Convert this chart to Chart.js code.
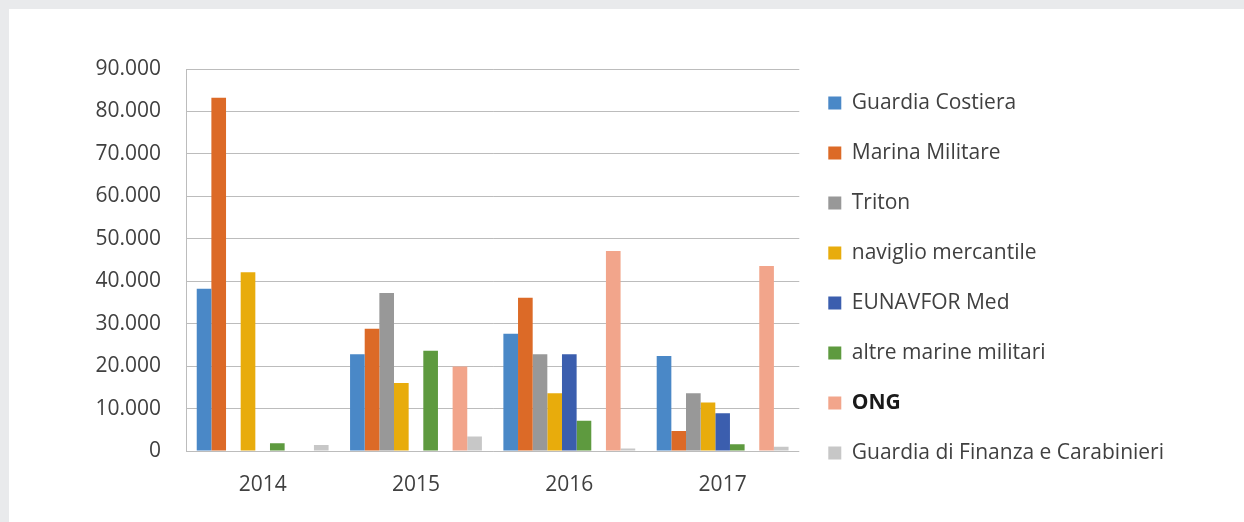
<!DOCTYPE html>
<html>
<head>
<meta charset="utf-8">
<script src="https://cdn.jsdelivr.net/npm/chart.js@4.4.1/dist/chart.umd.min.js"></script>
<style>
  html, body { margin: 0; padding: 0; }
  body { width: 1244px; height: 522px; background: #e9eaec; overflow: hidden; position: relative; }
  #card { position: absolute; left: 9px; top: 9px; width: 1235px; height: 513px; background: #ffffff; }
  canvas { position: absolute; left: 0; top: 0; }
</style>
</head>
<body>
<div id="card"><canvas id="c" width="1235" height="513"></canvas></div>
<script>
const categories = ['2014', '2015', '2016', '2017'];
const seriesNames = ['Guardia Costiera', 'Marina Militare', 'Triton', 'naviglio mercantile', 'EUNAVFOR Med', 'altre marine militari', '', 'ONG', 'Guardia di Finanza e Carabinieri'];
const guardiaCostiera = [38200, 22800, 27600, 22400];
const marinaMilitare = [83200, 28800, 36100, 4700];
const triton = [0, 37200, 22800, 13600];
const naviglioMercantile = [42100, 16000, 13600, 11400];
const eunavforMed = [0, 0, 22800, 8900];
const altreMarineMilitari = [1800, 23600, 7100, 1600];
const emptySlot = [null, null, null, null];
const ong = [0, 19900, 47100, 43600];
const gdfCarabinieri = [1400, 3400, 600, 1000];
const yTicks = [0, 10000, 20000, 30000, 40000, 50000, 60000, 70000, 80000, 90000];
const boldLegendLabels = ['ONG'];

const seriesValues = [guardiaCostiera, marinaMilitare, triton, naviglioMercantile, eunavforMed, altreMarineMilitari, emptySlot, ong, gdfCarabinieri];
const colors = ['#4a88c7', '#dc6a27', '#989898', '#e8ac0c', '#3b5eae', '#5e9a3f', '#ffffff', '#f2a58b', '#c7c7c7'];

const fmt = v => String(v).replace(/\B(?=(\d{3})+(?!\d))/g, '.');
const textColor = '#404040';
const fontFamily = "'Open Sans', sans-serif";
const fontSize = 21;
const legendBox = 13;

// Re-draws selected legend labels in bold, using the legend's own computed hit boxes.
const boldLegendPlugin = {
  id: 'boldLegend',
  afterDraw(chart) {
    const lg = chart.legend;
    if (!lg || !lg.legendItems) return;
    const ctx = chart.ctx;
    lg.legendItems.forEach((item, i) => {
      if (!boldLegendLabels.includes(item.text)) return;
      const hb = lg.legendHitBoxes[i];
      const tx = hb.left + legendBox + fontSize / 2;
      const ty = hb.top + hb.height / 2;
      ctx.save();
      ctx.fillStyle = '#ffffff';
      ctx.fillRect(tx - 1, hb.top - 2, hb.width - legendBox - fontSize / 2 + 6, hb.height + 4);
      ctx.font = 'bold ' + fontSize + 'px ' + fontFamily;
      ctx.fillStyle = '#1a1a1a';
      ctx.textAlign = 'left';
      ctx.textBaseline = 'middle';
      ctx.fillText(item.text, tx, ty);
      ctx.restore();
    });
  }
};

new Chart(document.getElementById('c'), {
  type: 'bar',
  data: {
    labels: categories,
    datasets: seriesValues.map((vals, i) => ({
      label: seriesNames[i],
      data: vals,
      backgroundColor: colors[i],
      borderWidth: 0,
      categoryPercentage: 0.86,
      barPercentage: 1.0,
      xAxisID: 'x'
    }))
  },
  plugins: [boldLegendPlugin],
  options: {
    responsive: false,
    animation: false,
    layout: { padding: { left: 0, top: 25, right: 70, bottom: 0 } },
    plugins: {
      tooltip: { enabled: false },
      legend: {
        position: 'right',
        maxWidth: 430,
        labels: {
          filter: item => item.text !== '',
          boxWidth: legendBox,
          boxHeight: legendBox,
          padding: 29,
          color: textColor,
          font: { family: fontFamily, size: fontSize },
          generateLabels: chart => {
            const items = Chart.defaults.plugins.legend.labels.generateLabels(chart);
            items.forEach(it => { it.lineWidth = 0; });
            return items;
          }
        }
      }
    },
    scales: {
      xTop: {
        type: 'category',
        position: 'top',
        display: true,
        grid: { display: false, drawTicks: false },
        border: { display: false },
        ticks: { display: false },
        afterFit: s => { s.height = 35; }
      },
      x: {
        position: 'bottom',
        grid: { display: false, drawTicks: false },
        border: { display: false },
        ticks: { color: textColor, font: { family: fontFamily, size: fontSize }, padding: 21 },
        afterFit: s => { s.height = 71; }
      },
      y: {
        min: 0,
        max: 90000,
        afterBuildTicks: s => { s.ticks = yTicks.map(v => ({ value: v })); },
        grid: { color: '#bcbcbc', lineWidth: 1, drawTicks: false },
        border: { display: true, color: '#bcbcbc', width: 1 },
        ticks: {
          color: textColor,
          font: { family: fontFamily, size: fontSize },
          padding: 25,
          callback: v => fmt(v)
        },
        afterFit: s => { s.width = 177; }
      }
    }
  }
});
</script>
</body>
</html>
